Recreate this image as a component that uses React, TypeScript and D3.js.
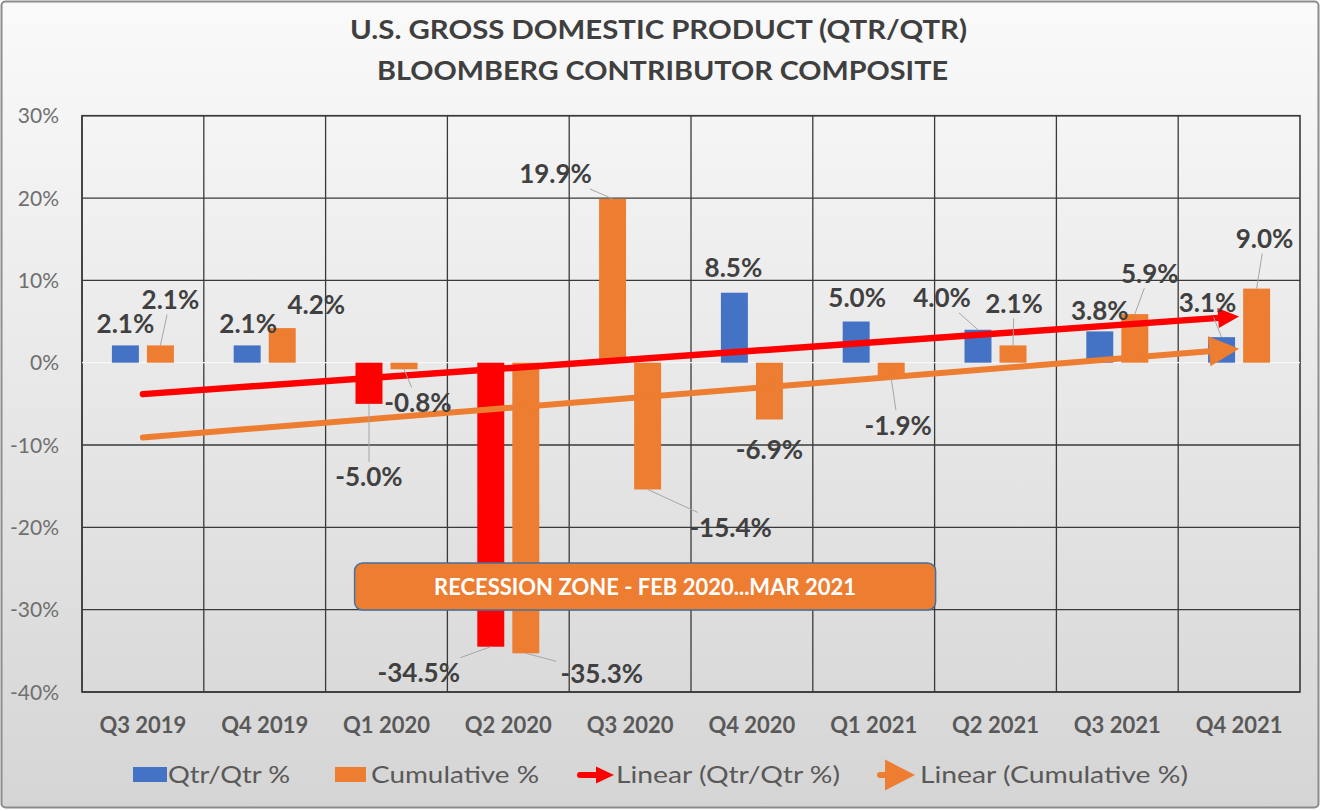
import React from 'react';
import * as d3 from 'd3';

// ---------- DATA ----------
const categories = ['Q3 2019', 'Q4 2019', 'Q1 2020', 'Q2 2020', 'Q3 2020', 'Q4 2020', 'Q1 2021', 'Q2 2021', 'Q3 2021', 'Q4 2021'];
const qtrValues = [2.1, 2.1, -5.0, -34.5, 19.9, 8.5, 5.0, 4.0, 3.8, 3.1];
const cumValues = [2.1, 4.2, -0.8, -35.3, -15.4, -6.9, -1.9, 2.1, 5.9, 9.0];
const yTicks = [30, 20, 10, 0, -10, -20, -30, -40];
const legendLabels = ['Qtr/Qtr %', 'Cumulative %', 'Linear (Qtr/Qtr %)', 'Linear (Cumulative %)'];
const titleLines = ['U.S. GROSS DOMESTIC PRODUCT (QTR/QTR)', 'BLOOMBERG CONTRIBUTOR COMPOSITE'];
const annotationText = 'RECESSION ZONE - FEB 2020...MAR 2021';

// ---------- STYLE / LAYOUT ----------
const BLUE = '#4472c4';
const ORANGE = '#ed7d31';
const RED = '#ff0000';
const qtrColors = [BLUE, BLUE, RED, RED, ORANGE, BLUE, BLUE, BLUE, BLUE, BLUE];
// label offsets (px) from the bar end
const qtrLabelOffsets: [number, number][] = [[0, -22], [1, -22], [0, 73], [-72, 26], [-57, -25], [-1, -25], [1, -24], [-36, -32], [0, -21], [-14, -35]];
const cumLabelOffsets: [number, number][] = [[10, -46], [34, -24], [14, 33], [76, 20], [83, 38], [0, 30], [7, 47], [1, -42], [15, -41], [8, -50]];
const qtrLeaders = [false, false, true, true, true, false, false, true, false, true];
const cumLeaders = [true, false, true, true, true, false, true, true, true, true];

const W = 1321;
const H = 811;
const plot = { left: 82, right: 1300, top: 115.7, bottom: 692 };
const FONT = 'Lato, "Open Sans", "Liberation Sans", sans-serif';
const LABEL_SIZE = 26;

const fmt = (v: number) => `${v.toFixed(1)}%`;

function labelWidth(s: string) {
  let w = 0;
  for (const ch of s) {
    if (ch === '.') w += 0.27;
    else if (ch === '%') w += 0.82;
    else if (ch === '-') w += 0.37;
    else w += 0.58;
  }
  return w * LABEL_SIZE;
}

function regression(vals: number[]) {
  const xs = vals.map((_, i) => i + 1);
  const mx = d3.mean(xs) as number;
  const my = d3.mean(vals) as number;
  const sxy = d3.sum(xs, (x, i) => (x - mx) * (vals[i] - my));
  const sxx = d3.sum(xs, (x) => (x - mx) ** 2);
  const slope = sxy / sxx;
  return (i: number) => my + slope * (i + 1 - mx);
}

function Arrow({ x1, y1, x2, y2, color, lw, headLen, headW }: any) {
  const dx = x2 - x1;
  const dy = y2 - y1;
  const len = Math.hypot(dx, dy);
  const ux = dx / len;
  const uy = dy / len;
  const bx = x2 - ux * headLen;
  const by = y2 - uy * headLen;
  const px = -uy;
  const py = ux;
  const lx = x2 - ux * headLen * 0.8;
  const ly = y2 - uy * headLen * 0.8;
  const head = `M${x2},${y2}L${bx + px * headW / 2},${by + py * headW / 2}L${bx - px * headW / 2},${by - py * headW / 2}Z`;
  return (
    <g>
      <line x1={x1} y1={y1} x2={lx} y2={ly} stroke={color} strokeWidth={lw} strokeLinecap="round" />
      <path d={head} fill={color} />
    </g>
  );
}

export default function App() {
  const x = d3.scaleBand<string>().domain(categories).range([plot.left, plot.right]).padding(0);
  const inner = d3.scaleBand<string>().domain(['q', 'c']).range([-31, 31]).paddingInner(0.23);
  const y = d3.scaleLinear().domain([-40, 30]).range([plot.bottom, plot.top]);
  const bw = inner.bandwidth();
  const cx = (c: string) => (x(c) as number) + x.bandwidth() / 2;

  const qTrend = regression(qtrValues);
  const cTrend = regression(cumValues);
  const first = categories[0];
  const last = categories[categories.length - 1];

  const labels: any[] = [];
  const makeLabels = (vals: number[], key: string, offs: [number, number][], leaders: boolean[]) => {
    vals.forEach((v, i) => {
      const c = categories[i];
      const ax = cx(c) + (inner(key) as number) + bw / 2;
      const ay = y(v);
      const lx = ax + offs[i][0];
      const ly = ay + offs[i][1];
      const text = fmt(v);
      let leader = null;
      if (leaders[i]) {
        const hw = labelWidth(text) / 2 + 4;
        const hh = 15;
        const ddx = ax - lx;
        const ddy = ay - ly;
        const t = Math.min(ddx !== 0 ? hw / Math.abs(ddx) : Infinity, ddy !== 0 ? hh / Math.abs(ddy) : Infinity);
        if (t < 1) leader = { x1: ax, y1: ay, x2: lx + ddx * t, y2: ly + ddy * t };
      }
      labels.push({ key: `${key}${i}`, text, lx, ly, leader });
    });
  };
  makeLabels(qtrValues, 'q', qtrLabelOffsets, qtrLeaders);
  makeLabels(cumValues, 'c', cumLabelOffsets, cumLeaders);

  return (
    <svg width={W} height={H} style={{ position: 'absolute', left: 0, top: 0, display: 'block' }} fontFamily={FONT}>
      <defs>
        <linearGradient id="bg" x1="0" y1="0" x2="0" y2="1">
          <stop offset="0" stopColor="#fafafa" />
          <stop offset="0.45" stopColor="#e9e9e9" />
          <stop offset="1" stopColor="#d5d5d5" />
        </linearGradient>
      </defs>
      <rect x={1.5} y={1.5} width={W - 4} height={H - 5} rx={4} fill="url(#bg)" stroke="#8c8c8c" strokeWidth={2} />

      {/* title */}
      <text x={658.5} y={38.5} textAnchor="middle" fontSize={27} fontWeight={700} fill="#3f3f3f" textLength={617} lengthAdjust="spacingAndGlyphs">{titleLines[0]}</text>
      <text x={662.5} y={80} textAnchor="middle" fontSize={27} fontWeight={700} fill="#3f3f3f" textLength={571} lengthAdjust="spacingAndGlyphs">{titleLines[1]}</text>

      {/* gridlines */}
      {yTicks.filter((t) => t !== 0).map((t) => (
        <line key={`h${t}`} x1={plot.left} x2={plot.right} y1={y(t)} y2={y(t)} stroke="#3a3a3a" strokeWidth={1.3} />
      ))}
      {categories.map((c) => (
        <line key={`v${c}`} x1={x(c)} x2={x(c)} y1={plot.top} y2={plot.bottom} stroke="#3a3a3a" strokeWidth={1.3} />
      ))}
      <rect x={plot.left} y={plot.top} width={plot.right - plot.left} height={plot.bottom - plot.top} fill="none" stroke="#3a3a3a" strokeWidth={1.6} />
      <line x1={plot.left} x2={plot.right} y1={y(0)} y2={y(0)} stroke="#f7f7f7" strokeWidth={1.2} />

      {/* y tick labels */}
      {yTicks.map((t) => (
        <text key={`yt${t}`} x={59} y={y(t) + 7.5} textAnchor="end" fontSize={21} fill="#6f6f6f">{`${t}%`}</text>
      ))}

      {/* x labels */}
      {categories.map((c) => (
        <text key={`xl${c}`} x={cx(c)} y={733} textAnchor="middle" fontSize={22} fontWeight={700} fill="#595959">{c}</text>
      ))}

      {/* bars */}
      {qtrValues.map((v, i) => (
        <rect key={`qb${i}`} x={cx(categories[i]) + (inner('q') as number)} width={bw} y={Math.min(y(v), y(0))} height={Math.abs(y(v) - y(0))} fill={qtrColors[i]} />
      ))}
      {cumValues.map((v, i) => (
        <rect key={`cb${i}`} x={cx(categories[i]) + (inner('c') as number)} width={bw} y={Math.min(y(v), y(0))} height={Math.abs(y(v) - y(0))} fill={ORANGE} />
      ))}

      {/* recession annotation */}
      <rect x={354.6} y={563} width={581} height={47} rx={8} fill={ORANGE} stroke="#41719c" strokeWidth={1.5} />
      <text x={645} y={594.5} textAnchor="middle" fontSize={22} fontWeight={700} fill="#ffffff" textLength={422} lengthAdjust="spacingAndGlyphs">{annotationText}</text>

      {/* trend lines */}
      <Arrow x1={cx(first)} y1={y(cTrend(0))} x2={cx(last)} y2={y(cTrend(categories.length - 1))} color={ORANGE} lw={6} headLen={30} headW={30} />
      <Arrow x1={cx(first)} y1={y(qTrend(0))} x2={cx(last)} y2={y(qTrend(categories.length - 1))} color={RED} lw={6.5} headLen={21} headW={20} />

      {/* leader lines */}
      {labels.filter((l) => l.leader).map((l) => (
        <line key={`ld${l.key}`} x1={l.leader.x1} y1={l.leader.y1} x2={l.leader.x2} y2={l.leader.y2} stroke="#a6a6a6" strokeWidth={1} />
      ))}

      {/* data labels */}
      {labels.map((l) => (
        <text key={`lb${l.key}`} x={l.lx} y={l.ly + 9.5} textAnchor="middle" fontSize={LABEL_SIZE} fontWeight={700} fill="#404040">{l.text}</text>
      ))}

      {/* legend */}
      <rect x={133} y={767} width={34} height={15} fill={BLUE} />
      <text x={168} y={783} fontSize={23} fill="#595959" textLength={122} lengthAdjust="spacingAndGlyphs">{legendLabels[0]}</text>
      <rect x={335} y={767} width={31} height={15} fill={ORANGE} />
      <text x={371} y={783} fontSize={23} fill="#595959" textLength={168} lengthAdjust="spacingAndGlyphs">{legendLabels[1]}</text>
      <Arrow x1={580} y1={775} x2={614} y2={775} color={RED} lw={6} headLen={18} headW={17} />
      <text x={616} y={783} fontSize={23} fill="#595959" textLength={224} lengthAdjust="spacingAndGlyphs">{legendLabels[2]}</text>
      <Arrow x1={880} y1={775} x2={915} y2={775} color={ORANGE} lw={6} headLen={30} headW={31} />
      <text x={920} y={783} fontSize={23} fill="#595959" textLength={268} lengthAdjust="spacingAndGlyphs">{legendLabels[3]}</text>
    </svg>
  );
}
